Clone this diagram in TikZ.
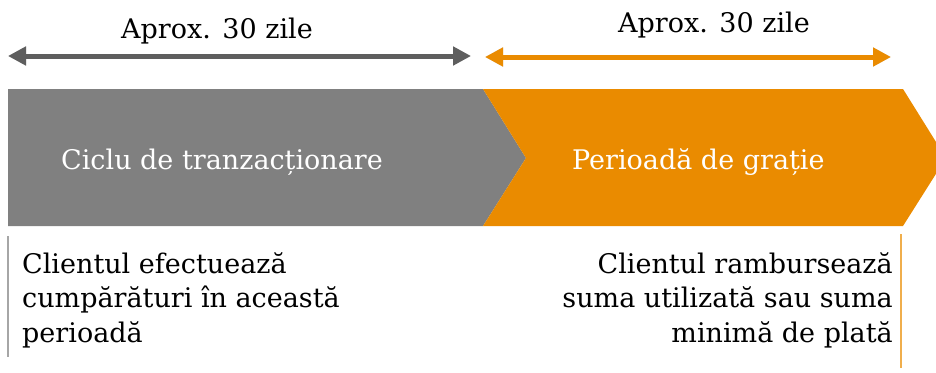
\documentclass[tikz,border=0pt]{standalone}
\usepackage{fontspec}
\setmainfont{DejaVu Serif}
\usetikzlibrary{
    arrows.meta,
    calc,
}
\definecolor{phasegray}{HTML}{808080}
\definecolor{phaseorange}{HTML}{EA8B00}
\definecolor{spangray}{HTML}{5E5E5E}
\definecolor{tickgray}{HTML}{A6A6A6}
\newcommand{\bodytext}{\fontsize{27}{34.5}\selectfont}

\begin{document}
\begin{tikzpicture}[x=1pt, y=-1pt,
        span/.style={line width=5pt, {Triangle[length=18pt,width=18pt]}-{Triangle[length=18pt,width=18pt]}},
        spanshadow/.style={span, black, opacity=0.15, shift={(2,4)}},
        spanlabel/.style={font=\bodytext, text=black, inner sep=0pt, anchor=base},
        phaselabel/.style={font=\bodytext, text=white, inner sep=0pt, anchor=base west},
        note/.style={font=\bodytext, text=black, inner sep=0pt},
        tick/.style={line width=1.5pt}
        ]
        \clip (0,0) rectangle (936,372);

        % chevrons
        \fill[phasegray]   (8,89) -- (483,89) -- (526,158) -- (483,226) -- (8,226) -- cycle;
        \fill[phaseorange] (483,89) -- (903,89) -- (946,158) -- (903,226) -- (483,226) -- (526,158) -- cycle;
        \node[phaselabel] (CYCLE) at (61,169)  {Ciclu de tranzacționare};
        \node[phaselabel] (GRACE) at (572,169) {Perioadă de grație};

        % durations
        \coordinate (L1) at (8,56);
        \coordinate (R1) at (471,56);
        \coordinate (L2) at (485,57);
        \coordinate (R2) at (891,57);
        \draw[spanshadow] (L1) -- (R1);
        \draw[spanshadow] (L2) -- (R2);
        \draw[span, spangray]   (L1) -- (R1);
        \draw[span, phaseorange] (L2) -- (R2);
        \node[spanlabel] (D1) at (217,38) {Aprox. 30 zile};
        \node[spanlabel] (D2) at (714,32) {Aprox. 30 zile};

        % notes
        \coordinate (T1a) at (8,236);
        \coordinate (T1b) at (8,357);
        \coordinate (T2a) at (901,234);
        \coordinate (T2b) at (901,368);
        \draw[tick, tickgray] (T1a) -- (T1b);
        \draw[tick, phaseorange!70] (T2a) -- (T2b);
        \node[note, anchor=base west, align=left] (BUY) at (22,342)
            {Clientul efectuează\\cumpărături în această\\perioadă};
        \node[note, anchor=base east, align=right] (PAY) at (893,342)
            {Clientul rambursează\\suma utilizată sau suma\\minimă de plată};
\end{tikzpicture}
\end{document}
